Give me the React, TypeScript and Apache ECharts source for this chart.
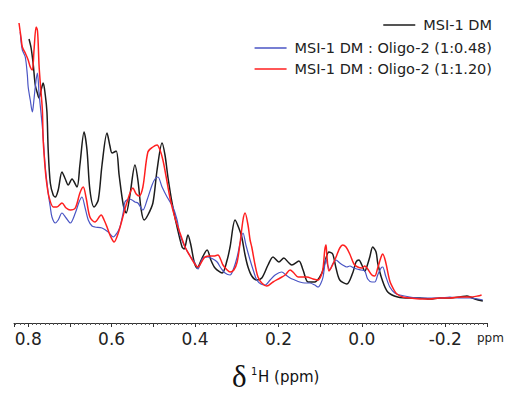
import React, { useEffect, useRef } from "react";
import * as echarts from "echarts";

// [chemical shift (ppm), intensity]
const msi1: [number, number][] = [
  [0.798, 284], [0.793, 275], [0.788, 259], [0.783, 238], [0.778, 230], [0.774, 225], [0.769, 233], [0.764, 240],
  [0.759, 228], [0.755, 211], [0.752, 173], [0.747, 140], [0.740, 128], [0.735, 126], [0.728, 133], [0.719, 151],
  [0.711, 144], [0.704, 138], [0.695, 144], [0.683, 136], [0.676, 158], [0.666, 191], [0.659, 173], [0.652, 133],
  [0.642, 116], [0.632, 123], [0.623, 158], [0.611, 190], [0.604, 177], [0.599, 170], [0.589, 172], [0.582, 148],
  [0.572, 118], [0.565, 110], [0.556, 128], [0.544, 158], [0.537, 143], [0.529, 113], [0.522, 103], [0.513, 108],
  [0.501, 120], [0.491, 153], [0.479, 180], [0.472, 168], [0.465, 146], [0.455, 120], [0.443, 96], [0.431, 76],
  [0.426, 74], [0.417, 88], [0.410, 78], [0.402, 61], [0.395, 55], [0.383, 65], [0.371, 73], [0.362, 63],
  [0.352, 55], [0.335, 50], [0.323, 63], [0.316, 76], [0.304, 103], [0.295, 95], [0.288, 86], [0.280, 68],
  [0.273, 56], [0.264, 47], [0.252, 43], [0.240, 45], [0.225, 58], [0.213, 66], [0.199, 61], [0.187, 65],
  [0.177, 61], [0.168, 58], [0.151, 62], [0.141, 53], [0.129, 41], [0.113, 41], [0.101, 46], [0.093, 53],
  [0.086, 65], [0.079, 71], [0.070, 69], [0.062, 55], [0.053, 43], [0.036, 39], [0.022, 50], [0.014, 61],
  [0.007, 63], [0.000, 58], [-0.007, 52], [-0.014, 59], [-0.019, 66], [-0.026, 76], [-0.034, 71], [-0.038, 60],
  [-0.048, 44], [-0.062, 31], [-0.086, 26], [-0.115, 25], [-0.139, 25], [-0.163, 24], [-0.187, 25], [-0.211, 25],
  [-0.235, 26], [-0.252, 27], [-0.271, 24], [-0.290, 22],
];

const oligo048: [number, number][] = [
  [0.819, 291], [0.817, 281], [0.814, 273], [0.807, 266], [0.802, 248], [0.800, 236], [0.795, 223], [0.790, 211],
  [0.788, 216], [0.783, 236], [0.778, 250], [0.776, 243], [0.774, 230], [0.766, 196], [0.759, 156], [0.752, 130],
  [0.747, 116], [0.743, 106], [0.735, 100], [0.728, 103], [0.719, 110], [0.709, 105], [0.699, 100], [0.687, 110],
  [0.678, 121], [0.671, 126], [0.664, 116], [0.656, 103], [0.647, 97], [0.640, 96], [0.623, 95], [0.608, 91],
  [0.596, 86], [0.587, 90], [0.580, 96], [0.572, 111], [0.568, 121], [0.558, 124], [0.551, 123], [0.544, 121],
  [0.537, 120], [0.525, 113], [0.515, 123], [0.503, 138], [0.496, 144], [0.489, 146], [0.479, 136], [0.467, 126],
  [0.453, 116], [0.443, 103], [0.436, 88], [0.424, 76], [0.412, 67], [0.400, 60], [0.393, 54], [0.386, 61],
  [0.381, 65], [0.369, 66], [0.357, 64], [0.347, 61], [0.338, 55], [0.328, 50], [0.316, 48], [0.307, 55],
  [0.299, 66], [0.292, 80], [0.285, 90], [0.278, 78], [0.268, 63], [0.259, 51], [0.252, 43], [0.242, 39],
  [0.232, 38], [0.220, 43], [0.208, 48], [0.192, 51], [0.182, 48], [0.172, 45], [0.161, 43], [0.149, 41],
  [0.137, 40], [0.125, 40], [0.113, 38], [0.105, 36], [0.098, 40], [0.093, 46], [0.089, 58], [0.086, 64],
  [0.082, 58], [0.077, 53], [0.070, 59], [0.062, 63], [0.053, 60], [0.046, 58], [0.036, 56], [0.029, 57],
  [0.019, 55], [0.012, 54], [0.002, 53], [-0.007, 52], [-0.014, 44], [-0.024, 41], [-0.031, 41], [-0.038, 48],
  [-0.046, 55], [-0.050, 56], [-0.057, 47], [-0.067, 36], [-0.079, 30], [-0.091, 28], [-0.115, 26], [-0.139, 25],
  [-0.163, 25], [-0.187, 25], [-0.211, 26], [-0.235, 25], [-0.259, 25], [-0.278, 24], [-0.290, 23],
];

const oligo120: [number, number][] = [
  [0.822, 300], [0.817, 285], [0.814, 276], [0.807, 270], [0.800, 263], [0.795, 256], [0.790, 253], [0.786, 273],
  [0.781, 296], [0.778, 293], [0.776, 280], [0.774, 258], [0.771, 240], [0.766, 213], [0.764, 183], [0.759, 153],
  [0.755, 138], [0.750, 126], [0.740, 116], [0.731, 116], [0.719, 120], [0.709, 115], [0.699, 113], [0.687, 115],
  [0.676, 130], [0.668, 136], [0.661, 125], [0.652, 106], [0.640, 101], [0.625, 108], [0.618, 103], [0.611, 96],
  [0.604, 88], [0.594, 81], [0.584, 90], [0.575, 103], [0.563, 121], [0.549, 135], [0.541, 129], [0.534, 127],
  [0.525, 136], [0.513, 171], [0.501, 176], [0.491, 178], [0.484, 173], [0.477, 163], [0.470, 148], [0.460, 125],
  [0.448, 105], [0.436, 90], [0.424, 76], [0.412, 67], [0.402, 60], [0.393, 56], [0.383, 62], [0.376, 66],
  [0.364, 67], [0.355, 67], [0.345, 68], [0.338, 63], [0.333, 58], [0.323, 53], [0.316, 51], [0.307, 53],
  [0.299, 61], [0.292, 80], [0.285, 103], [0.280, 110], [0.273, 98], [0.268, 83], [0.264, 76], [0.256, 58],
  [0.249, 46], [0.240, 40], [0.228, 37], [0.213, 41], [0.196, 45], [0.184, 48], [0.172, 53], [0.163, 50],
  [0.153, 46], [0.141, 46], [0.132, 46], [0.117, 44], [0.105, 43], [0.098, 47], [0.093, 55], [0.089, 73],
  [0.086, 78], [0.084, 68], [0.079, 52], [0.074, 55], [0.067, 61], [0.060, 68], [0.053, 75], [0.046, 78],
  [0.038, 76], [0.029, 69], [0.019, 59], [0.010, 56], [0.000, 55], [-0.007, 57], [-0.014, 54], [-0.024, 48],
  [-0.031, 47], [-0.038, 55], [-0.046, 66], [-0.050, 69], [-0.057, 61], [-0.067, 42], [-0.077, 33], [-0.084, 29],
  [-0.098, 26], [-0.115, 25], [-0.139, 24], [-0.163, 24], [-0.187, 25], [-0.211, 25], [-0.235, 26], [-0.259, 26],
  [-0.278, 27], [-0.287, 28],
];

const seriesNames = ["MSI-1 DM", "MSI-1 DM : Oligo-2 (1:0.48)", "MSI-1 DM : Oligo-2 (1:1.20)"];
const seriesColors = ["#1c1c1c", "#4a55c4", "#ff1f1f"];
const xMin = -0.3;
const xMax = 0.834;
const tickStep = 0.1;

export default function App() {
  const ref = useRef<HTMLDivElement>(null);
  useEffect(() => {
    if (!ref.current) return;
    document.body.style.margin = "0";
    const chart = echarts.init(ref.current, undefined, { renderer: "svg" });
    const datasets = [msi1, oligo048, oligo120];
    const font = "DejaVu Sans";
    chart.setOption({
      animation: false,
      grid: { left: 14, right: 23, top: 23, bottom: 71, containLabel: false },
      legend: seriesNames.map((n, i) => ({
        data: [n],
        right: 18,
        top: [17, 40, 61][i],
        padding: 0,
        icon: "rect",
        itemWidth: 32,
        itemHeight: 1.5,
        itemGap: 0,
        textStyle: { fontFamily: font, fontSize: 14.5, color: "#222", padding: [0, 0, 0, 3], lineHeight: 16 },
        selectedMode: false,
      })),
      xAxis: {
        type: "value",
        inverse: true,
        min: xMin,
        max: xMax,
        interval: tickStep,
        splitLine: { show: false },
        axisLine: { lineStyle: { color: "#333", width: 1 } },
        axisTick: { show: true, length: 4, lineStyle: { color: "#333" } },
        minorTick: { show: true, splitNumber: 10, length: 2, lineStyle: { color: "#555" } },
        axisLabel: {
          margin: 7,
          fontFamily: font,
          fontSize: 17,
          color: "#222",
          formatter: (v: number) => {
            const r = Math.round(v * 10);
            if (Math.abs(v * 10 - r) > 1e-6) return "";
            if (r % 2 !== 0) return "";
            return (r / 10).toFixed(1);
          },
        },
      },
      yAxis: { type: "value", min: 0, max: 300, show: false },
      series: datasets.map((d, i) => ({
        type: "line",
        name: seriesNames[i],
        data: d,
        showSymbol: false,
        symbol: "none",
        smooth: 0.3,
        color: seriesColors[i],
        lineStyle: { color: seriesColors[i], width: i === 1 ? 1.2 : 1.5 },
        z: 2 + i,
      })),
      graphic: [
        { type: "text", left: 477, top: 332, style: { text: "ppm", fontFamily: font, fontSize: 12, fill: "#222" } },
        { type: "text", x: 232, y: 376, style: { text: "δ", fontFamily: "Liberation Serif", fontSize: 31, fill: "#111", verticalAlign: "middle" } },
        { type: "text", x: 251, y: 371, style: { text: "1", fontFamily: font, fontSize: 10, fill: "#111", verticalAlign: "middle" } },
        { type: "text", x: 258, y: 377, style: { text: "H (ppm)", fontFamily: font, fontSize: 15, fill: "#111", verticalAlign: "middle" } },
      ],
    });
    return () => chart.dispose();
  }, []);
  return <div ref={ref} style={{ width: 510, height: 394 }} />;
}
